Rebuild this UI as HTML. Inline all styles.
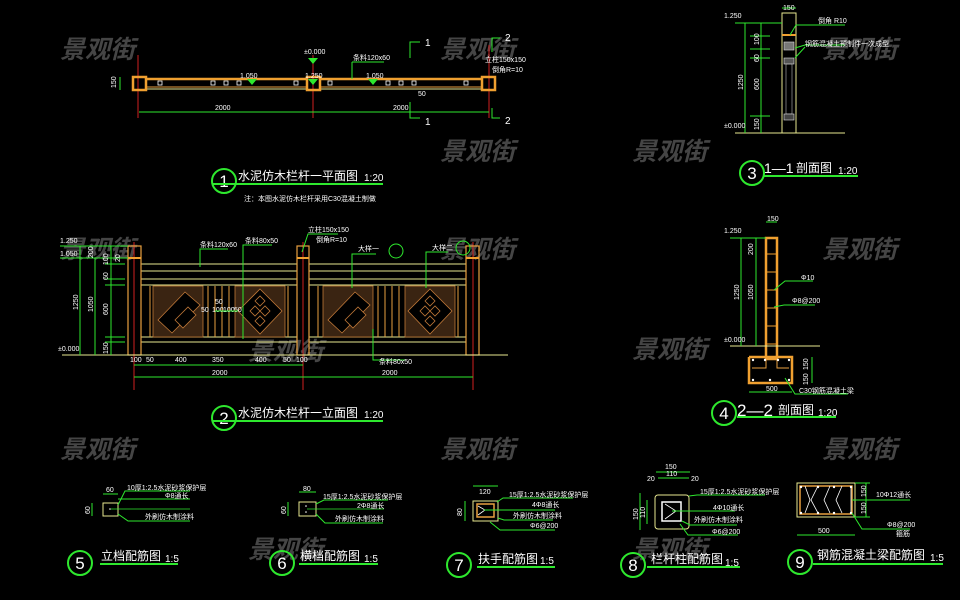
<!DOCTYPE html>
<html><head><meta charset="utf-8"><style>
html,body{margin:0;padding:0;background:#000;}
svg{display:block}
text{font-family:"Liberation Sans","Noto Sans CJK SC",sans-serif;}
.g{stroke:#2ee82e;fill:none;stroke-width:1}
.o{stroke:#e8a040;fill:none;stroke-width:1}
.O{stroke:#f0a030;fill:none;stroke-width:2.5}
.y{stroke:#e8e890;fill:none;stroke-width:1}
.r{stroke:#d02020;fill:none;stroke-width:1}
.w{fill:#fff;font-size:7px}
.t{fill:#fff;font-size:12px}
.s{fill:#fff;font-size:10px}
.wm{fill:#454545;font-size:25px;font-style:italic;font-weight:bold}
.c{stroke:#2ee82e;fill:none;stroke-width:2}
.u{stroke:#2ee82e;stroke-width:2}
.n{fill:#fff;font-size:17px;text-anchor:middle}
</style></head><body>
<svg width="960" height="600" viewBox="0 0 960 600" xmlns="http://www.w3.org/2000/svg">
<g class="wm">
<text x="60" y="58">景观街</text><text x="440" y="58">景观街</text><text x="822" y="58">景观街</text>
<text x="632" y="160">景观街</text><text x="440" y="160">景观街</text>
<text x="60" y="258">景观街</text><text x="440" y="258">景观街</text><text x="822" y="258">景观街</text>
<text x="632" y="358">景观街</text><text x="248" y="360">景观街</text>
<text x="60" y="458">景观街</text><text x="440" y="458">景观街</text><text x="822" y="458">景观街</text>
<text x="248" y="558">景观街</text><text x="632" y="558">景观街</text>
</g>

<!-- ===== 1 plan ===== -->
<g>
<line class="r" x1="138" y1="55" x2="138" y2="118"/><line class="r" x1="313" y1="55" x2="313" y2="118"/><line class="r" x1="489" y1="45" x2="489" y2="118"/>
<rect x="146" y="79" width="161" height="10" class="y"/><rect x="320" y="79" width="162" height="10" class="y"/>
<line class="O" x1="146" y1="79" x2="307" y2="79"/><line class="O" x1="320" y1="79" x2="482" y2="79"/>
<line class="o" x1="146" y1="87" x2="307" y2="87"/><line class="o" x1="320" y1="87" x2="482" y2="87"/>
<rect x="133" y="77" width="13" height="13" class="O" stroke-width="2"/>
<rect x="307" y="77" width="13" height="13" class="O" stroke-width="2"/>
<rect x="482" y="77" width="13" height="13" class="O" stroke-width="2"/>
<g fill="none" stroke="#fff" stroke-width="0.8">
<rect x="158" y="81" width="4" height="4"/><rect x="211" y="81" width="4" height="4"/><rect x="224" y="81" width="4" height="4"/><rect x="237" y="81" width="4" height="4"/><rect x="294" y="81" width="4" height="4"/>
<rect x="328" y="81" width="4" height="4"/><rect x="386" y="81" width="4" height="4"/><rect x="399" y="81" width="4" height="4"/><rect x="412" y="81" width="4" height="4"/><rect x="464" y="81" width="4" height="4"/>
</g>
<polygon points="247,79 257,79 252,85" fill="#2ee82e"/><polygon points="308,58 318,58 313,64" fill="#2ee82e"/><polygon points="308,79 318,79 313,85" fill="#2ee82e"/><polygon points="368,79 378,79 373,85" fill="#2ee82e"/>
<text class="w" x="240" y="78">1.050</text><text class="w" x="305" y="78">1.250</text><text class="w" x="304" y="54">±0.000</text><text class="w" x="366" y="78">1.050</text>
<line class="g" x1="352" y1="79" x2="352" y2="62"/><line class="g" x1="352" y1="62" x2="384" y2="62"/><text class="w" x="353" y="60">条料120x60</text>
<text class="w" x="485" y="62">立柱150x150</text><text class="w" x="492" y="72">倒角R=10</text>
<line class="g" x1="120" y1="77" x2="120" y2="90"/><text class="w" x="110" y="86" transform="rotate(-90 114 84)">150</text>
<line class="g" x1="139" y1="112" x2="489" y2="112"/><text class="w" x="215" y="110">2000</text><text class="w" x="393" y="110">2000</text>
<polyline class="g" stroke-width="2" points="420,42 410,42 410,58"/><text class="s" x="425" y="46">1</text>
<polyline class="g" stroke-width="2" points="410,102 410,118 420,118"/><text class="s" x="425" y="125">1</text>
<polyline class="g" stroke-width="2" points="500,38 492,38 492,52"/><text class="s" x="505" y="41">2</text>
<polyline class="g" stroke-width="2" points="492,108 492,118 500,118"/><text class="s" x="505" y="124">2</text>
<text class="w" x="418" y="96">50</text>
<circle cx="224" cy="181" r="12" class="c"/><text class="n" x="224" y="187">1</text>
<text class="t" x="238" y="180">水泥仿木栏杆一平面图</text><text class="s" x="364" y="181">1:20</text>
<line class="u" x1="212" y1="184" x2="383" y2="184"/>
<text class="w" x="244" y="201">注：本图水泥仿木栏杆采用C30混凝土制做</text>
</g>

<!-- ===== 2 elevation ===== -->
<g>
<line class="r" x1="134" y1="242" x2="134" y2="390"/><line class="r" x1="303" y1="242" x2="303" y2="390"/><line class="r" x1="473" y1="242" x2="473" y2="390"/>
<g class="y">
<line x1="141" y1="264" x2="297" y2="264"/><line x1="309" y1="264" x2="466" y2="264"/>
<line x1="141" y1="271" x2="297" y2="271"/><line x1="309" y1="271" x2="466" y2="271"/>
<line x1="141" y1="279" x2="297" y2="279"/><line x1="309" y1="279" x2="466" y2="279"/>
<line x1="141" y1="285" x2="297" y2="285"/><line x1="309" y1="285" x2="466" y2="285"/>
<line x1="141" y1="337" x2="297" y2="337"/><line x1="309" y1="337" x2="466" y2="337"/>
<line x1="141" y1="342" x2="297" y2="342"/><line x1="309" y1="342" x2="466" y2="342"/>
</g>
<g fill="#3a2412" stroke="#c07838" stroke-width="0.8">
<rect x="153" y="286" width="50" height="51"/><rect x="235" y="286" width="50" height="51"/>
<rect x="323" y="286" width="50" height="51"/><rect x="405" y="286" width="50" height="51"/>
</g>
<g fill="#000" stroke="#c07838" stroke-width="0.8">
<polygon points="158,320 185,292 200,305 172,333"/><polygon points="175,320 188,307 196,315 183,328" />
<polygon points="260,289 282,311 260,334 238,311"/><polygon points="250,311 255,306 260,311 255,316"/><polygon points="260,311 265,306 270,311 265,316"/><polygon points="255,301 260,296 265,301 260,306"/><polygon points="255,321 260,316 265,321 260,326"/>
<polygon points="328,320 355,292 370,305 342,333"/><polygon points="345,320 358,307 366,315 353,328"/>
<polygon points="430,289 452,311 430,334 408,311"/><polygon points="420,311 425,306 430,311 425,316"/><polygon points="430,311 435,306 440,311 435,316"/><polygon points="425,301 430,296 435,301 430,306"/><polygon points="425,321 430,316 435,321 430,326"/>
</g>
<g class="o">
<line x1="150" y1="286" x2="150" y2="337"/><line x1="208" y1="286" x2="208" y2="337"/><line x1="215" y1="286" x2="215" y2="337"/><line x1="222" y1="286" x2="222" y2="337"/><line x1="229" y1="286" x2="229" y2="337"/><line x1="288" y1="286" x2="288" y2="337"/>
<line x1="318" y1="286" x2="318" y2="337"/><line x1="378" y1="286" x2="378" y2="337"/><line x1="385" y1="286" x2="385" y2="337"/><line x1="392" y1="286" x2="392" y2="337"/><line x1="399" y1="286" x2="399" y2="337"/><line x1="458" y1="286" x2="458" y2="337"/>
</g>
<g fill="none" stroke="#e8a040" stroke-width="1.2">
<rect x="128" y="246" width="13" height="109"/><rect x="297" y="246" width="12" height="109"/><rect x="466" y="246" width="13" height="109"/>
</g>
<g stroke="#f0a030" stroke-width="2"><line x1="128" y1="258" x2="141" y2="258"/><line x1="297" y1="258" x2="309" y2="258"/><line x1="466" y1="258" x2="479" y2="258"/></g>
<line class="y" x1="62" y1="355" x2="508" y2="355"/>
<g class="g"><line x1="80" y1="246" x2="80" y2="355"/><line x1="95" y1="258" x2="95" y2="355"/><line x1="111" y1="246" x2="111" y2="355"/>
<line x1="60" y1="246" x2="128" y2="246"/><line x1="60" y1="258" x2="128" y2="258"/><line x1="105" y1="264" x2="125" y2="264"/><line x1="105" y1="279" x2="125" y2="279"/><line x1="105" y1="285" x2="125" y2="285"/><line x1="105" y1="337" x2="125" y2="337"/><line x1="105" y1="342" x2="125" y2="342"/></g>
<text class="w" x="60" y="243">1.250</text><text class="w" x="60" y="256">1.050</text><text class="w" x="58" y="351">±0.000</text>
<g class="w"><text transform="translate(78 310) rotate(-90)">1250</text><text transform="translate(93 312) rotate(-90)">1050</text><text transform="translate(93 258) rotate(-90)">200</text><text transform="translate(108 315) rotate(-90)">600</text><text transform="translate(108 280) rotate(-90)">60</text><text transform="translate(108 354) rotate(-90)">150</text><text transform="translate(108 265) rotate(-90)">100</text><text transform="translate(120 262) rotate(-90)">20</text></g>
<line class="g" x1="134" y1="365" x2="303" y2="365"/><line class="g" x1="134" y1="377" x2="473" y2="377"/>
<g class="w"><text x="130" y="362">100</text><text x="146" y="362">50</text><text x="175" y="362">400</text><text x="212" y="362">350</text><text x="255" y="362">400</text><text x="283" y="362">50</text><text x="296" y="362">100</text><text x="212" y="375">2000</text><text x="382" y="375">2000</text>
<text x="201" y="312">50</text><text x="212" y="312">100</text><text x="223" y="312">100</text><text x="234" y="312">50</text><text x="215" y="304">50</text></g>
<line class="g" x1="215" y1="311" x2="238" y2="311"/>
<g class="g"><polyline points="200,267 200,249 228,249"/><polyline points="243,339 243,245 272,245"/><polyline points="302,252 308,234 338,234"/><polyline points="352,288 352,254 376,254"/><polyline points="426,288 426,252 448,252"/><polyline points="373,329 373,360 405,360"/></g>
<circle cx="396" cy="251" r="7" class="g"/><circle cx="463" cy="248" r="7" class="g"/>
<g class="w"><text x="200" y="247">条料120x60</text><text x="245" y="243">条料80x50</text><text x="308" y="232">立柱150x150</text><text x="316" y="242">倒角R=10</text><text x="358" y="251">大样一</text><text x="432" y="250">大样二</text><text x="379" y="364">条料80x50</text></g>
<circle cx="224" cy="418" r="12" class="c"/><text class="n" x="224" y="424">2</text>
<text class="t" x="238" y="417">水泥仿木栏杆一立面图</text><text class="s" x="364" y="418">1:20</text>
<line class="u" x1="212" y1="421" x2="383" y2="421"/>
</g>

<!-- ===== 3 ===== -->
<g>
<rect x="782" y="13" width="14" height="120" class="y"/>
<line x1="782" y1="35" x2="796" y2="35" stroke="#f0a030" stroke-width="2"/>
<rect x="784" y="42" width="10" height="8" fill="#777" stroke="#ddd" stroke-width="0.6"/>
<rect x="784" y="58" width="10" height="6" fill="#555" stroke="#ddd" stroke-width="0.6"/>
<rect x="786" y="64" width="6" height="50" fill="none" stroke="#bbb" stroke-width="0.6"/>
<rect x="784" y="114" width="10" height="6" fill="#444" stroke="#ddd" stroke-width="0.6"/>
<line class="y" x1="735" y1="133" x2="845" y2="133"/>
<g class="g"><line x1="745" y1="23" x2="745" y2="133"/><line x1="761" y1="23" x2="761" y2="133"/><line x1="782" y1="8" x2="796" y2="8"/><line x1="735" y1="23" x2="782" y2="23"/><line x1="750" y1="36" x2="770" y2="36"/><line x1="750" y1="49" x2="770" y2="49"/><line x1="750" y1="58" x2="770" y2="58"/><line x1="750" y1="116" x2="770" y2="116"/><polyline points="790,35 796,25 845,25"/><polyline points="795,48 805,45 845,45"/><line x1="795" y1="58" x2="805" y2="47"/></g>
<g class="w"><text x="724" y="18">1.250</text><text x="724" y="128">±0.000</text><text x="783" y="10">150</text><text x="818" y="23">倒角 R10</text><text x="805" y="46">钢筋混凝土预制件一次成型</text>
<text transform="translate(743 90) rotate(-90)">1250</text><text transform="translate(759 90) rotate(-90)">600</text><text transform="translate(759 45) rotate(-90)">100</text><text transform="translate(759 130) rotate(-90)">150</text><text transform="translate(759 62) rotate(-90)">60</text></g>
<circle cx="752" cy="173" r="12" class="c"/><text class="n" x="752" y="179">3</text>
<text x="764" y="173" fill="#fff" font-size="14">1—1</text><text class="t" x="796" y="172">剖面图</text><text class="s" x="838" y="174">1:20</text>
<line class="u" x1="764" y1="176" x2="858" y2="176"/>
</g>

<!-- ===== 4 ===== -->
<g>
<rect x="766" y="238" width="11" height="121" class="O" stroke-width="2"/>
<g stroke="#f0a030" stroke-width="1"><line x1="766" y1="254" x2="777" y2="254"/><line x1="766" y1="272" x2="777" y2="272"/><line x1="766" y1="290" x2="777" y2="290"/><line x1="766" y1="308" x2="777" y2="308"/><line x1="766" y1="326" x2="777" y2="326"/><line x1="766" y1="344" x2="777" y2="344"/></g>
<polyline points="749,357 749,383 792,383 792,357 749,357" class="O" stroke-width="2"/>
<polyline points="752,368 766,368 766,359 777,359 777,368 789,368" class="o" stroke-width="2"/>
<g fill="#fff"><circle cx="753" cy="360" r="1.2"/><circle cx="765" cy="360" r="1.2"/><circle cx="778" cy="360" r="1.2"/><circle cx="789" cy="360" r="1.2"/><circle cx="753" cy="380" r="1.2"/><circle cx="770" cy="380" r="1.2"/><circle cx="789" cy="380" r="1.2"/></g>
<line class="y" x1="730" y1="346" x2="820" y2="346"/>
<g class="g"><line x1="741" y1="238" x2="741" y2="346"/><line x1="756" y1="238" x2="756" y2="346"/><line x1="766" y1="222" x2="777" y2="222"/><line x1="730" y1="238" x2="766" y2="238"/><line x1="812" y1="357" x2="812" y2="383"/><line x1="749" y1="392" x2="792" y2="392"/><polyline points="774,290 785,281 813,281"/><polyline points="774,307 784,305 815,305"/><polyline points="785,378 795,394 848,394"/></g>
<g class="w"><text x="724" y="233">1.250</text><text x="724" y="342">±0.000</text><text x="767" y="221">150</text><text x="801" y="280">Φ10</text><text x="792" y="303">Φ8@200</text><text x="766" y="391">500</text><text x="799" y="393">C30钢筋混凝土梁</text>
<text transform="translate(739 300) rotate(-90)">1250</text><text transform="translate(753 300) rotate(-90)">1050</text><text transform="translate(753 255) rotate(-90)">200</text><text transform="translate(808 370) rotate(-90)">150</text><text transform="translate(808 385) rotate(-90)">150</text></g>
<circle cx="724" cy="413" r="12" class="c"/><text class="n" x="724" y="419">4</text>
<text x="737" y="416" fill="#fff" font-size="17">2—2</text><text class="t" x="778" y="414">剖面图</text><text class="s" x="818" y="416">1:20</text>
<line class="u" x1="737" y1="417" x2="836" y2="417"/>
</g>

<!-- ===== 5 ===== -->
<g>
<rect x="103" y="503" width="15" height="13" class="y"/><circle cx="110" cy="509" r="0.8" fill="#fff"/>
<g class="g"><line x1="103" y1="494" x2="118" y2="494"/><line x1="92" y1="503" x2="92" y2="516"/><polyline points="118,505 125,491 190,491"/><line x1="111" y1="509" x2="190" y2="509" stroke-width="0.8"/><line x1="118" y1="499" x2="190" y2="499"/><polyline points="118,514 128,521 190,521"/></g>
<g class="w"><text x="106" y="492">60</text><text x="127" y="490">10厚1:2.5水泥砂浆保护层</text><text x="165" y="498">Φ8通长</text><text x="145" y="519">外刷仿木制涂料</text><text transform="translate(90 514) rotate(-90)">60</text></g>
<circle cx="80" cy="563" r="12" class="c"/><text class="n" x="80" y="569">5</text>
<text class="t" x="101" y="560">立档配筋图</text><text class="s" x="165" y="562">1:5</text>
<line class="u" x1="100" y1="564" x2="178" y2="564"/>
</g>
<!-- ===== 6 ===== -->
<g>
<rect x="299" y="502" width="17" height="14" class="y"/><circle cx="306" cy="506" r="0.8" fill="#fff"/><circle cx="306" cy="512" r="0.8" fill="#fff"/>
<g class="g"><line x1="299" y1="492" x2="316" y2="492"/><line x1="288" y1="502" x2="288" y2="516"/><polyline points="316,504 324,500 388,500"/><line x1="307" y1="509" x2="384" y2="509" stroke-width="0.8"/><polyline points="316,514 325,523 383,523"/></g>
<g class="w"><text x="303" y="491">80</text><text x="323" y="499">15厚1:2.5水泥砂浆保护层</text><text x="357" y="508">2Φ8通长</text><text x="335" y="521">外刷仿木制涂料</text><text transform="translate(286 514) rotate(-90)">60</text></g>
<circle cx="282" cy="563" r="12" class="c"/><text class="n" x="282" y="569">6</text>
<text class="t" x="300" y="560">横档配筋图</text><text class="s" x="364" y="562">1:5</text>
<line class="u" x1="299" y1="564" x2="378" y2="564"/>
</g>
<!-- ===== 7 ===== -->
<g>
<rect x="473" y="501" width="25" height="20" class="y"/>
<rect x="477" y="504" width="17" height="13" fill="none" stroke="#e8a040" stroke-width="1.5"/>
<polyline points="478,506 485,510 478,515" fill="none" stroke="#fff" stroke-width="0.8"/>
<g class="g"><line x1="473" y1="486" x2="498" y2="486"/><line x1="465" y1="501" x2="465" y2="521"/><polyline points="497,502 503,498 573,498"/><line x1="484" y1="510" x2="555" y2="510"/><polyline points="498,518 504,520 553,520"/><polyline points="490,522 500,530 555,530"/></g>
<g class="w"><text x="479" y="494">120</text><text x="509" y="497">15厚1:2.5水泥砂浆保护层</text><text x="532" y="507">4Φ8通长</text><text x="513" y="518">外刷仿木制涂料</text><text x="530" y="528">Φ6@200</text><text transform="translate(462 516) rotate(-90)">80</text></g>
<circle cx="459" cy="565" r="12" class="c"/><text class="n" x="459" y="571">7</text>
<text class="t" x="478" y="563">扶手配筋图</text><text class="s" x="540" y="564">1:5</text>
<line class="u" x1="477" y1="567" x2="555" y2="567"/>
</g>
<!-- ===== 8 ===== -->
<g>
<rect x="655" y="495" width="34" height="34" rx="3" class="y"/>
<rect x="662" y="502" width="19" height="19" fill="none" stroke="#fff" stroke-width="1.5"/>
<polyline points="665,504 676,511 665,519" fill="none" stroke="#fff" stroke-width="0.8"/>
<g class="g"><line x1="656" y1="472" x2="690" y2="472"/><line x1="658" y1="478" x2="689" y2="478"/><line x1="640" y1="493" x2="640" y2="530"/><line x1="647" y1="500" x2="647" y2="524"/><polyline points="689,496 697,495 765,495"/><line x1="672" y1="511" x2="735" y2="511"/><polyline points="682,521 690,525 737,525"/><polyline points="680,524 688,535 738,535"/></g>
<g class="w"><text x="665" y="469">150</text><text x="666" y="476">110</text><text x="647" y="481">20</text><text x="691" y="481">20</text><text x="700" y="494">15厚1:2.5水泥砂浆保护层</text><text x="713" y="510">4Φ10通长</text><text x="694" y="522">外刷仿木制涂料</text><text x="712" y="534">Φ6@200</text><text transform="translate(638 520) rotate(-90)">150</text><text transform="translate(645 518) rotate(-90)">110</text></g>
<circle cx="633" cy="565" r="12" class="c"/><text class="n" x="633" y="571">8</text>
<text class="t" x="651" y="563">栏杆柱配筋图</text><text class="s" x="725" y="566">1:5</text>
<line class="u" x1="647" y1="567" x2="740" y2="567"/>
</g>
<!-- ===== 9 ===== -->
<g>
<rect x="797" y="483" width="58" height="34" class="y"/>
<rect x="800" y="486" width="52" height="28" fill="none" stroke="#e8a040" stroke-width="1.5"/>
<g fill="none" stroke="#fff" stroke-width="0.8"><polyline points="805,486 810,500 805,513"/><polyline points="818,486 811,500 818,513"/><polyline points="830,486 824,500 830,513"/><polyline points="842,486 836,500 842,513"/><line x1="851" y1="486" x2="851" y2="513"/></g>
<g fill="#fff"><circle cx="801" cy="487" r="1.2"/><circle cx="818" cy="487" r="1.2"/><circle cx="834" cy="487" r="1.2"/><circle cx="851" cy="487" r="1.2"/><circle cx="801" cy="513" r="1.2"/><circle cx="818" cy="513" r="1.2"/><circle cx="834" cy="513" r="1.2"/><circle cx="851" cy="513" r="1.2"/></g>
<g class="g"><line x1="866" y1="483" x2="866" y2="517"/><line x1="855" y1="483" x2="870" y2="483"/><line x1="855" y1="500" x2="870" y2="500"/><line x1="855" y1="517" x2="870" y2="517"/><line x1="852" y1="500" x2="910" y2="500"/><line x1="797" y1="535" x2="855" y2="535"/><polyline points="852,513 862,529 910,529"/></g>
<g class="w"><text x="876" y="497">10Φ12通长</text><text x="818" y="533">500</text><text x="887" y="527">Φ8@200</text><text x="896" y="536">箍筋</text><text transform="translate(866 497) rotate(-90)">150</text><text transform="translate(866 514) rotate(-90)">150</text></g>
<circle cx="800" cy="562" r="12" class="c"/><text class="n" x="800" y="568">9</text>
<text class="t" x="817" y="559">钢筋混凝土梁配筋图</text><text class="s" x="930" y="561">1:5</text>
<line class="u" x1="813" y1="564" x2="943" y2="564"/>
</g>
</svg>
</body></html>
